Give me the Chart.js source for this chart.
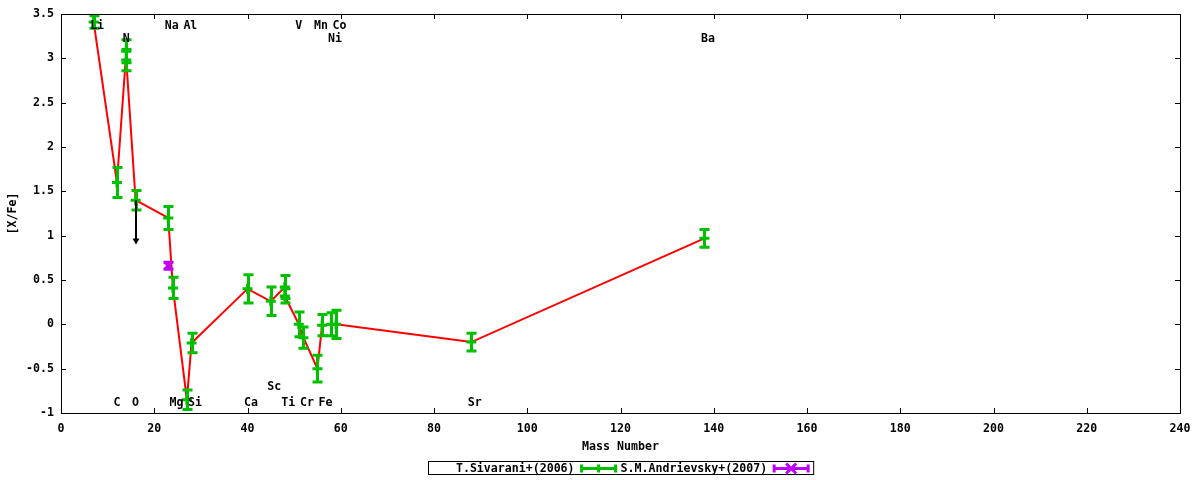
<!DOCTYPE html>
<html>
<head>
<meta charset="utf-8">
<script src="https://cdn.jsdelivr.net/npm/chart.js@4.4.1/dist/chart.umd.min.js"></script>
<style>
  html, body { margin: 0; padding: 0; background: #fff; }
  canvas { display: block; }
</style>
</head>
<body>
<canvas id="canvas" width="1200" height="480"></canvas>
<script>
// [X/Fe] against mass number, T.Sivarani+(2006) with the Na value of S.M.Andrievsky+(2007)

let masses = [7, 12, 14, 14, 16, 23, 24, 27, 28, 40, 45, 48, 48, 51, 52, 55, 56, 58, 59, 88, 138];
let xfe    = [3.41, 1.60, 3.08, 2.98, 1.40, 1.20, 0.41, -0.85, -0.21, 0.40, 0.26, 0.42, 0.32, 0.00, -0.15, -0.50, -0.01, 0.00, 0.00, -0.20, 0.97];
let xfeErr = [0.07, 0.17, 0.13, 0.12, 0.11, 0.13, 0.12, 0.11, 0.11, 0.16, 0.16, 0.13, 0.08, 0.14, 0.12, 0.15, 0.12, 0.13, 0.16, 0.10, 0.10];

let andMass = [23];
let andXfe  = [0.66];
let andErr  = [0.04];

// upper limit (black arrow) hanging from the O point
let limitMass = [16];
let limitFrom = [1.40];
let limitTo   = [0.90];

// element names written along the top and bottom of the plot
let elemNames  = ['Li', 'Na', 'Al', 'V', 'Mn', 'Co', 'N', 'Ni', 'Ba',
                  'C', 'O', 'Mg', 'Si', 'Ca', 'Sc', 'Ti', 'Cr', 'Fe', 'Sr'];
let elemMass   = [7, 23, 27, 51, 55, 59, 14, 58, 138,
                  12, 16, 24, 28, 40, 45, 48, 52, 56, 88];
let elemLabelY = [3.37, 3.37, 3.37, 3.37, 3.37, 3.37, 3.22, 3.22, 3.22,
                  -0.89, -0.89, -0.89, -0.89, -0.89, -0.71, -0.89, -0.89, -0.89, -0.89];

let legendNames  = ['T.Sivarani+(2006)', 'S.M.Andrievsky+(2007)'];
let legendColors = ['#00c000', '#c000ff'];

let xTitle = 'Mass Number';
let yTitle = '[X/Fe]';

const FONT = 'bold 11.6px "DejaVu Sans Mono", monospace';

function pts(xs, ys) {
  return xs.map((m, i) => ({ x: m, y: ys[i] }));
}

function errorBars(ctx, xs, ys, es, sx, sy, color) {
  ctx.save();
  ctx.strokeStyle = color;
  ctx.lineWidth = 3;
  for (let i = 0; i < xs.length; i++) {
    let x = Math.round(sx.getPixelForValue(xs[i])) + 0.5;
    let yt = sy.getPixelForValue(ys[i] + es[i]);
    let yb = sy.getPixelForValue(ys[i] - es[i]);
    ctx.beginPath();
    ctx.moveTo(x, yt); ctx.lineTo(x, yb);
    ctx.moveTo(x - 5, yt); ctx.lineTo(x + 5, yt);
    ctx.moveTo(x - 5, yb); ctx.lineTo(x + 5, yb);
    ctx.stroke();
  }
  ctx.restore();
}

function legendSample(ctx, x0, y, color, cross) {
  ctx.save();
  ctx.strokeStyle = color;
  ctx.lineWidth = 3;
  let x1 = x0 + 36, xm = x0 + 18;
  ctx.beginPath();
  ctx.moveTo(x0, y); ctx.lineTo(x1, y);
  ctx.moveTo(x0 + 1, y - 4); ctx.lineTo(x0 + 1, y + 4);
  ctx.moveTo(x1 - 1, y - 4); ctx.lineTo(x1 - 1, y + 4);
  if (cross) {
    ctx.moveTo(xm - 5, y - 5); ctx.lineTo(xm + 5, y + 5);
    ctx.moveTo(xm - 5, y + 5); ctx.lineTo(xm + 5, y - 5);
  } else {
    ctx.moveTo(xm, y - 4); ctx.lineTo(xm, y + 4);
  }
  ctx.stroke();
  ctx.restore();
}

const extras = {
  id: 'extras',
  afterDatasetsDraw(chart) {
    let ctx = chart.ctx;
    let sx = chart.scales.x, sy = chart.scales.y;

    errorBars(ctx, masses, xfe, xfeErr, sx, sy, '#00c000');
    errorBars(ctx, andMass, andXfe, andErr, sx, sy, '#c000ff');

    // upper limit arrow
    ctx.save();
    ctx.strokeStyle = '#000';
    ctx.fillStyle = '#000';
    ctx.lineWidth = 2;
    for (let i = 0; i < limitMass.length; i++) {
      let x = Math.round(sx.getPixelForValue(limitMass[i]));
      let y0 = sy.getPixelForValue(limitFrom[i]);
      let y1 = sy.getPixelForValue(limitTo[i]);
      ctx.beginPath();
      ctx.moveTo(x, y0); ctx.lineTo(x, y1 - 5);
      ctx.stroke();
      ctx.beginPath();
      ctx.moveTo(x - 3.5, y1 - 6); ctx.lineTo(x + 3.5, y1 - 6); ctx.lineTo(x, y1);
      ctx.closePath();
      ctx.fill();
    }
    ctx.restore();
  },
  afterDraw(chart) {
    let ctx = chart.ctx;
    let sx = chart.scales.x, sy = chart.scales.y;
    let a = chart.chartArea;

    // frame with inward ticks on all four sides
    ctx.save();
    ctx.strokeStyle = '#000';
    ctx.lineWidth = 1;
    ctx.strokeRect(a.left + 0.5, a.top + 0.5, a.right - a.left, a.bottom - a.top);
    ctx.beginPath();
    sx.ticks.forEach(t => {
      let x = Math.round(sx.getPixelForValue(t.value)) + 0.5;
      ctx.moveTo(x, a.bottom); ctx.lineTo(x, a.bottom - 5);
      ctx.moveTo(x, a.top); ctx.lineTo(x, a.top + 5);
    });
    sy.ticks.forEach(t => {
      let y = Math.round(sy.getPixelForValue(t.value)) + 0.5;
      ctx.moveTo(a.left, y); ctx.lineTo(a.left + 5, y);
      ctx.moveTo(a.right, y); ctx.lineTo(a.right - 5, y);
    });
    ctx.stroke();

    // element names
    ctx.fillStyle = '#000';
    ctx.font = FONT;
    ctx.textAlign = 'left';
    ctx.textBaseline = 'middle';
    for (let i = 0; i < elemNames.length; i++) {
      let x = sx.getPixelForValue(elemMass[i]) - 3.5;
      let y = sy.getPixelForValue(elemLabelY[i]);
      ctx.fillText(elemNames[i], x, y);
    }

    // axis titles
    let cx = (a.left + a.right) / 2;
    ctx.textAlign = 'center';
    ctx.fillText(xTitle, cx, 447);
    ctx.save();
    ctx.translate(13, (a.top + a.bottom) / 2);
    ctx.rotate(-Math.PI / 2);
    ctx.fillText(yTitle, 0, 0);
    ctx.restore();

    // key box below the plot
    let colText = Math.max(...legendNames.map(s => ctx.measureText(s).width));
    let colW = colText + 46;
    let W = colW * legendNames.length;
    let left = Math.round(cx - W / 2);
    let ky = 468;
    ctx.strokeRect(left + 0.5, ky - 6.5, W, 13);
    ctx.textAlign = 'right';
    legendNames.forEach((name, i) => {
      let tx = left + i * colW + colText;
      ctx.fillText(name, tx, ky + 0.5);
      legendSample(ctx, tx + 6, ky + 0.5, legendColors[i], i === 1);
    });
    ctx.restore();
  }
};

let tickFont = { family: '"DejaVu Sans Mono"', size: 11.6, weight: 'bold' };

let options = {
  data: {
    datasets: [
      {
        type: 'scatter',
        label: legendNames[1],
        data: pts(andMass, andXfe),
        borderColor: '#c000ff',
        backgroundColor: '#c000ff',
        pointStyle: 'crossRot',
        pointRadius: 5,
        borderWidth: 3,
        order: 0
      },
      {
        type: 'scatter',
        label: legendNames[0],
        data: pts(masses, xfe),
        borderColor: '#00c000',
        backgroundColor: '#00c000',
        pointStyle: 'cross',
        pointRadius: 5,
        borderWidth: 3,
        order: 1
      },
      {
        type: 'line',
        label: 'line',
        data: pts(masses, xfe),
        borderColor: '#ff0000',
        borderWidth: 2,
        pointRadius: 0,
        fill: false,
        tension: 0,
        order: 3
      }
    ]
  },
  options: {
    responsive: false,
    animation: false,
    devicePixelRatio: 1,
    layout: { padding: { top: 14, right: 20, left: 0, bottom: 0 } },
    plugins: {
      legend: { display: false },
      tooltip: { enabled: false }
    },
    scales: {
      x: {
        type: 'linear',
        min: 0,
        max: 240,
        ticks: { stepSize: 20, color: '#000', font: tickFont, padding: 9, maxRotation: 0 },
        grid: { display: false, drawTicks: false },
        border: { display: false },
        afterFit: s => { s.height = 67; }
      },
      y: {
        type: 'linear',
        min: -1,
        max: 3.5,
        ticks: {
          stepSize: 0.5, color: '#000', font: tickFont, padding: 7,
          callback: v => String(Math.round(v * 10) / 10)
        },
        grid: { display: false, drawTicks: false },
        border: { display: false },
        afterFit: s => { s.width = 61; }
      }
    }
  },
  plugins: [extras]
};

let chart = new Chart(document.getElementById('canvas'), options);
</script>
</body>
</html>
